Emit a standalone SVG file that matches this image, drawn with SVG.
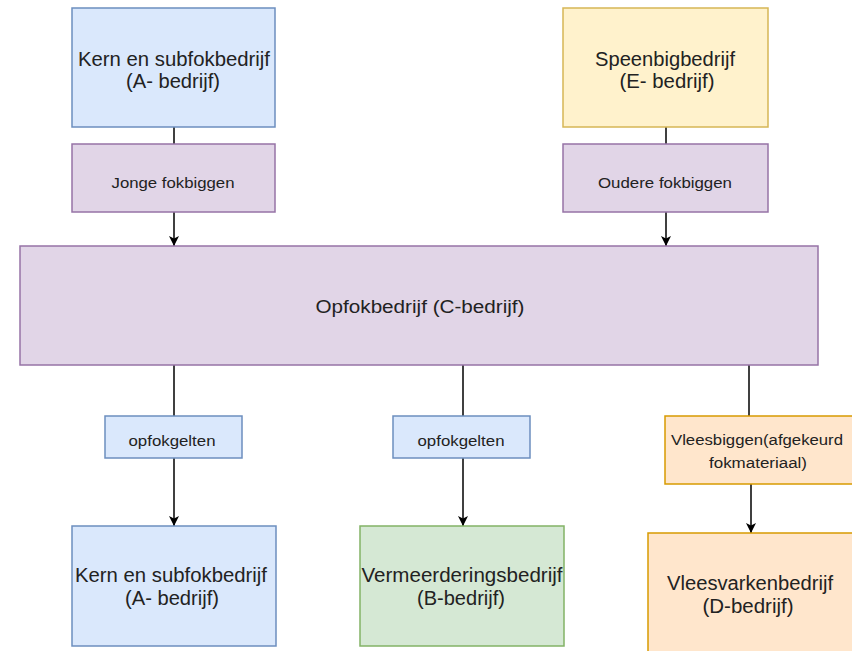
<svg xmlns="http://www.w3.org/2000/svg" width="852" height="651" viewBox="0 0 852 651">
<style>
text{font-family:"Liberation Sans",Arial,sans-serif;fill:#222;text-anchor:middle}
.big{font-size:20px}
.mid{font-size:18px}
.sm{font-size:14px}
.blue{fill:#dae8fc;stroke:#6c8ebf;stroke-width:1.5}
.yellow{fill:#fff2cc;stroke:#d6b656;stroke-width:1.5}
.purple{fill:#e1d5e7;stroke:#9673a6;stroke-width:1.5}
.green{fill:#d5e8d4;stroke:#82b366;stroke-width:1.5}
.orange{fill:#ffe6cc;stroke:#d79b00;stroke-width:1.5}
.edge{stroke:#000;stroke-width:1.5;fill:none}
</style>
<defs>
<marker id="arr" viewBox="0 0 10 10" refX="10" refY="5" markerWidth="10" markerHeight="10" markerUnits="userSpaceOnUse" orient="auto">
<path d="M0,0 L10,5 L0,10 L2.5,5 Z" fill="#000"/>
</marker>
</defs>
<rect width="852" height="651" fill="#fff"/>
<g id="connectors">
<line class="edge" x1="174" y1="127" x2="174" y2="144"/>
<line class="edge" x1="174" y1="212" x2="174" y2="246" marker-end="url(#arr)"/>
<line class="edge" x1="666" y1="127" x2="666" y2="144"/>
<line class="edge" x1="666" y1="212" x2="666" y2="246" marker-end="url(#arr)"/>
<line class="edge" x1="174" y1="365" x2="174" y2="416"/>
<line class="edge" x1="174" y1="458" x2="174" y2="526" marker-end="url(#arr)"/>
<line class="edge" x1="463" y1="365" x2="463" y2="416"/>
<line class="edge" x1="463" y1="458" x2="463" y2="526" marker-end="url(#arr)"/>
<line class="edge" x1="749" y1="365" x2="749" y2="416"/>
<line class="edge" x1="751" y1="484" x2="751" y2="533" marker-end="url(#arr)"/>
</g>
<g id="nodeA1">
<rect class="blue" x="72" y="8" width="203" height="119"/>
<text class="big" x="174" y="66" textLength="192" lengthAdjust="spacingAndGlyphs">Kern en subfokbedrijf</text>
<text class="big" x="173" y="88" textLength="94" lengthAdjust="spacingAndGlyphs">(A- bedrijf)</text>
</g>
<g id="nodeE">
<rect class="yellow" x="563" y="8" width="205" height="119"/>
<text class="big" x="665" y="66" textLength="140" lengthAdjust="spacingAndGlyphs">Speenbigbedrijf</text>
<text class="big" x="667" y="88" textLength="95" lengthAdjust="spacingAndGlyphs">(E- bedrijf)</text>
</g>
<g id="labelJonge">
<rect class="purple" x="72" y="144" width="203" height="68"/>
<text class="sm" x="173" y="188" textLength="123" lengthAdjust="spacingAndGlyphs">Jonge fokbiggen</text>
</g>
<g id="labelOudere">
<rect class="purple" x="563" y="144" width="205" height="68"/>
<text class="sm" x="665" y="188" textLength="134" lengthAdjust="spacingAndGlyphs">Oudere fokbiggen</text>
</g>
<g id="nodeC">
<rect class="purple" x="20" y="246" width="798" height="119"/>
<text class="mid" x="420" y="313" textLength="209" lengthAdjust="spacingAndGlyphs">Opfokbedrijf (C-bedrijf)</text>
</g>
<g id="labelOpfok1">
<rect class="blue" x="105" y="416" width="137" height="42"/>
<text class="sm" x="172" y="446" textLength="87" lengthAdjust="spacingAndGlyphs">opfokgelten</text>
</g>
<g id="labelOpfok2">
<rect class="blue" x="393" y="416" width="137" height="42"/>
<text class="sm" x="461" y="446" textLength="87" lengthAdjust="spacingAndGlyphs">opfokgelten</text>
</g>
<g id="labelVlees">
<rect class="orange" x="665" y="416" width="190" height="68"/>
<text class="sm" x="757" y="445" textLength="172" lengthAdjust="spacingAndGlyphs">Vleesbiggen(afgekeurd</text>
<text class="sm" x="758" y="468" textLength="98" lengthAdjust="spacingAndGlyphs">fokmateriaal)</text>
</g>
<g id="nodeA2">
<rect class="blue" x="72" y="526" width="204" height="120"/>
<text class="big" x="171" y="582" textLength="192" lengthAdjust="spacingAndGlyphs">Kern en subfokbedrijf</text>
<text class="big" x="172" y="605" textLength="94" lengthAdjust="spacingAndGlyphs">(A- bedrijf)</text>
</g>
<g id="nodeB">
<rect class="green" x="360" y="526" width="204" height="120"/>
<text class="big" x="462" y="582" textLength="201" lengthAdjust="spacingAndGlyphs">Vermeerderingsbedrijf</text>
<text class="big" x="461" y="605" textLength="88" lengthAdjust="spacingAndGlyphs">(B-bedrijf)</text>
</g>
<g id="nodeD">
<rect class="orange" x="648" y="533" width="210" height="125"/>
<text class="big" x="750" y="590" textLength="166" lengthAdjust="spacingAndGlyphs">Vleesvarkenbedrijf</text>
<text class="big" x="748" y="613" textLength="91" lengthAdjust="spacingAndGlyphs">(D-bedrijf)</text>
</g>
</svg>
